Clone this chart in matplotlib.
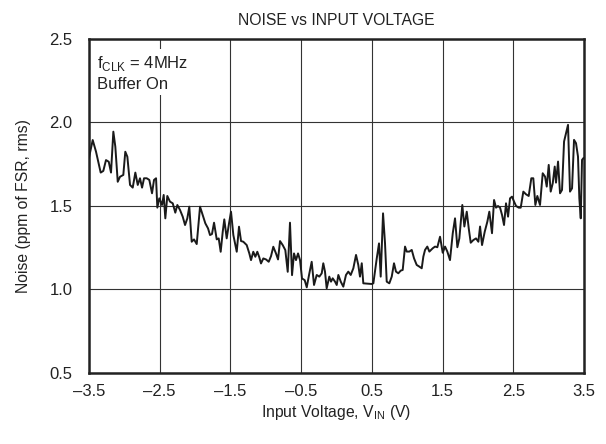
import matplotlib
matplotlib.use("Agg")
import matplotlib.pyplot as plt

plt.rcParams['font.family'] = ['Liberation Sans', 'DejaVu Sans']

# noise vs input voltage
vin = [
    -3.500, -3.448, -3.401, -3.335, -3.298, -3.260, -3.221, -3.189, -3.156, -3.128,
    -3.094, -3.062, -3.015, -2.987, -2.958, -2.920, -2.882, -2.845, -2.811, -2.779,
    -2.750, -2.722, -2.684, -2.647, -2.609, -2.581, -2.552, -2.534, -2.506, -2.468,
    -2.444, -2.421, -2.393, -2.355, -2.316, -2.280, -2.251, -2.213, -2.175, -2.142,
    -2.110, -2.082, -2.048, -2.015, -1.977, -1.930, -1.892, -1.855, -1.817, -1.789,
    -1.761, -1.732, -1.694, -1.666, -1.638, -1.609, -1.587, -1.553, -1.520, -1.492,
    -1.459, -1.411, -1.379, -1.350, -1.318, -1.270, -1.233, -1.209, -1.177, -1.148,
    -1.120, -1.092, -1.068, -1.035, -0.997, -0.959, -0.926, -0.894, -0.856, -0.827,
    -0.799, -0.761, -0.724, -0.690, -0.658, -0.629, -0.601, -0.573, -0.544, -0.516,
    -0.488, -0.450, -0.421, -0.389, -0.351, -0.318, -0.280, -0.243, -0.209, -0.187,
    -0.163, -0.139, -0.102, -0.078, -0.054, -0.021, 0.003, 0.026, 0.060, 0.096,
    0.134, 0.167, 0.201, 0.238, 0.276, 0.308, 0.332, 0.357, 0.379, 0.498,
    0.521, 0.569, 0.601, 0.625, 0.658, 0.686, 0.710, 0.747, 0.781, 0.813,
    0.841, 0.874, 0.908, 0.936, 0.969, 0.993, 1.030, 1.064, 1.096, 1.134,
    1.171, 1.205, 1.228, 1.252, 1.284, 1.313, 1.361, 1.393, 1.426, 1.464,
    1.502, 1.535, 1.567, 1.605, 1.644, 1.676, 1.709, 1.737, 1.779, 1.808,
    1.842, 1.870, 1.898, 1.935, 1.973, 2.006, 2.030, 2.058, 2.096, 2.133,
    2.161, 2.199, 2.228, 2.256, 2.284, 2.313, 2.341, 2.369, 2.397, 2.426,
    2.454, 2.482, 2.511, 2.539, 2.577, 2.605, 2.642, 2.680, 2.718, 2.755,
    2.783, 2.812, 2.840, 2.878, 2.916, 2.949, 2.973, 3.001, 3.029, 3.058,
    3.086, 3.104, 3.133, 3.161, 3.189, 3.218, 3.246, 3.274, 3.302, 3.331,
    3.359, 3.387, 3.415, 3.434, 3.454, 3.472, 3.491,
]
noise = [
    1.790, 1.895, 1.825, 1.700, 1.710, 1.775, 1.765, 1.700, 1.945, 1.855,
    1.645, 1.675, 1.686, 1.825, 1.795, 1.626, 1.610, 1.700, 1.626, 1.666,
    1.610, 1.666, 1.666, 1.656, 1.576, 1.656, 1.666, 1.490, 1.546, 1.506,
    1.566, 1.426, 1.560, 1.526, 1.516, 1.460, 1.506, 1.476, 1.436, 1.386,
    1.426, 1.496, 1.286, 1.300, 1.272, 1.496, 1.446, 1.396, 1.366, 1.326,
    1.332, 1.400, 1.300, 1.306, 1.226, 1.346, 1.420, 1.306, 1.396, 1.466,
    1.326, 1.226, 1.376, 1.290, 1.286, 1.266, 1.216, 1.176, 1.226, 1.196,
    1.226, 1.193, 1.156, 1.186, 1.180, 1.166, 1.200, 1.256, 1.216, 1.180,
    1.290, 1.266, 1.236, 1.106, 1.400, 1.086, 1.216, 1.176, 1.216, 1.176,
    1.066, 1.056, 1.013, 1.086, 1.166, 1.027, 1.087, 1.077, 1.097, 1.157,
    1.107, 1.007, 1.077, 1.047, 1.067, 1.047, 1.027, 1.087, 1.047, 1.017,
    1.087, 1.107, 1.087, 1.127, 1.207, 1.147, 1.077, 1.157, 1.037, 1.033,
    1.037, 1.186, 1.276, 1.077, 1.456, 1.276, 1.047, 1.037, 1.077, 1.157,
    1.107, 1.097, 1.113, 1.117, 1.257, 1.227, 1.227, 1.237, 1.187, 1.147,
    1.137, 1.127, 1.197, 1.237, 1.257, 1.227, 1.247, 1.257, 1.253, 1.316,
    1.220, 1.257, 1.227, 1.176, 1.337, 1.426, 1.253, 1.306, 1.506, 1.377,
    1.466, 1.366, 1.280, 1.296, 1.306, 1.286, 1.377, 1.266, 1.346, 1.406,
    1.466, 1.337, 1.536, 1.490, 1.500, 1.490, 1.446, 1.386, 1.516, 1.436,
    1.546, 1.556, 1.526, 1.500, 1.490, 1.490, 1.586, 1.570, 1.560, 1.666,
    1.666, 1.506, 1.560, 1.506, 1.696, 1.676, 1.616, 1.746, 1.586, 1.636,
    1.736, 1.640, 1.766, 1.576, 1.596, 1.886, 1.936, 1.986, 1.586, 1.606,
    1.896, 1.876, 1.796, 1.546, 1.426, 1.776, 1.786,
]

xticks = [-3.5, -2.5, -1.5, -0.5, 0.5, 1.5, 2.5, 3.5]
yticks = [0.5, 1.0, 1.5, 2.0, 2.5]

fig = plt.figure(figsize=(6.06, 4.44), dpi=100)
ax = fig.add_axes([0.1469, 0.1599, 0.8168, 0.7523])

ax.plot(vin, noise, color='#1a1a1a', lw=1.4, zorder=3)

ax.set_xlim(-3.5, 3.5)
ax.set_ylim(0.5, 2.5)
ax.set_xticks(xticks)
ax.set_yticks(yticks)
ax.set_xticklabels([f"{t:.1f}".replace('-', '\u2013') for t in xticks])
ax.set_yticklabels([f"{t:.1f}" for t in yticks])
ax.tick_params(axis='both', length=0, labelsize=12, colors='#222222')
ax.tick_params(axis='x', pad=8)
ax.tick_params(axis='y', pad=12)

ax.grid(True, color='#333333', lw=0.8)
ax.set_axisbelow(True)
for s in ax.spines.values():
    s.set_linewidth(1.8)
    s.set_color('#222222')

ax.set_title('NOISE vs INPUT VOLTAGE', fontsize=11.3, pad=10, color='#222222')
ax.set_xlabel('Input Voltage, V$_{\\mathregular{IN}}$ (V)', fontsize=11.3,
              labelpad=3, color='#222222')
ax.set_ylabel('Noise (ppm of FSR, rms)', fontsize=11.3, labelpad=13,
              color='#222222')

ax.text(-3.39, 2.41, 'f$_{\\mathregular{CLK}}$ = 4MHz\nBuffer On', fontsize=12,
        va='top', ha='left', linespacing=1.35, color='#222222',
        bbox=dict(facecolor='white', edgecolor='none', pad=2), zorder=4)

fig.savefig('out.png', dpi=100)
